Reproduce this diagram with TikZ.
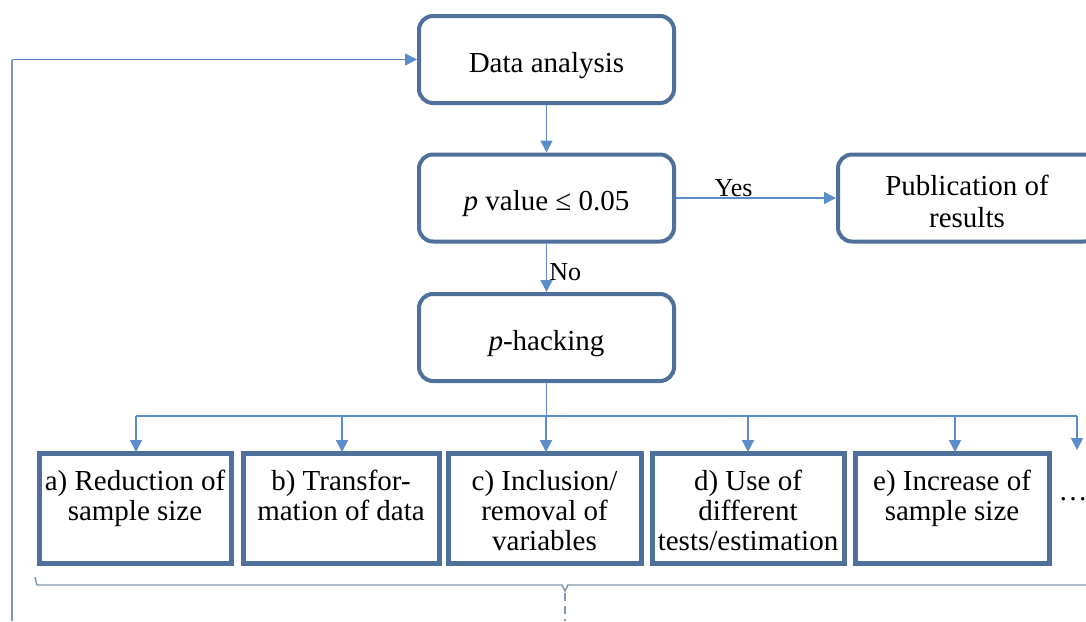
\documentclass[tikz,border=0pt]{standalone}
\usepackage{fontspec}
\setmainfont{Liberation Serif}
\newfontfamily\tnr{Liberation Serif}
\usetikzlibrary{arrows.meta}
\definecolor{boxc}{HTML}{4F709A}
\definecolor{linec}{HTML}{5B8DCB}
\definecolor{bracec}{HTML}{8096B2}
\begin{document}
\begin{tikzpicture}[x=1pt,y=-1pt,
  font=\tnr\fontsize{29}{30}\selectfont,
  rbox/.style={draw=boxc, line width=4pt, rounded corners=14pt, fill=white,
    minimum width=255pt, minimum height=87pt, inner sep=0pt},
  rtext/.style={align=center, inner sep=0pt, yshift=-6pt},
  sbox/.style={draw=boxc, line width=5pt, fill=white, minimum height=110pt, inner sep=0pt},
  btext/.style={anchor=north, align=center, inner sep=0pt, yshift=-19pt},
  conn/.style={draw=linec, line width=1.6pt},
  arr/.style={conn, -{Triangle[length=12pt,width=12pt]}},
  lab/.style={font=\tnr\fontsize{26}{28}\selectfont, inner sep=1pt},
  brace/.style={draw=bracec, line width=1.4pt}]
\clip (0,0) rectangle (1086,621);
\fill[white] (0,0) rectangle (1086,621);

% main decision chain
\node[rbox] (da) at (546.5,59.5) {};
\node[rbox] (pv) at (546.5,198) {};
\node[rbox, minimum width=260pt] (pub) at (968,198) {};
\node[rbox] (ph) at (546.5,337.5) {};
\node[rtext] (dat) at (da) {Data analysis};
\node[rtext] (pvt) at (pv) {\textit{p} value ≤ 0.05};
\node[rtext, yshift=3pt, font=\tnr\fontsize{29}{32}\selectfont] (pubt) at (pub.center -| 967,0) {Publication of\\results};
\node[rtext] (pht) at (ph) {\textit{p}-hacking};

\draw[arr] (da) -- (pv);
\draw[arr] (pv) -- node[lab, above, pos=0.36, yshift=-1pt] {Yes} (pub);
\draw[arr] (pv) -- node[lab, right, pos=0.6, xshift=1pt] {No} (ph);

% p-hacking strategies
\node[sbox, minimum width=192pt] (a) at (135,508.5) {};
\node[sbox, minimum width=196pt] (b) at (341,508.5) {};
\node[sbox, minimum width=193pt] (c) at (544.5,508.5) {};
\node[sbox, minimum width=192pt] (d) at (748,508.5) {};
\node[sbox, minimum width=194pt] (e) at (952,508.5) {};

\node[btext] (at) at (a.north) {a) Reduction of\\sample size};
\node[btext] (bt) at (b.north) {b) Transfor-\\mation of data};
\node[btext] (ct) at (c.north) {c) Inclusion/\\removal of\\variables};
\node[btext] (dt) at (d.north) {d) Use of\\different\\tests/estimation};
\node[btext] (et) at (e.north) {e) Increase of\\sample size};
\node[inner sep=0pt] (more) at (1073,499) {\dots};

% distribution bus
\coordinate (bus) at (546.5,416);
\coordinate (busl) at (136,416);
\coordinate (busr) at (1077,416);
\coordinate (moretop) at (1077,450);
\draw[conn] (ph.south) -- (bus);
\draw[conn] (busl) -- (busr);
\foreach \n/\x in {a/136, b/342, c/546, d/748, e/955}
  \draw[arr] (\x,416) -- (\x,452);
\draw[arr] (busr) -- (moretop);

% grouping brace under the strategies
\coordinate (brl) at (35,577);
\coordinate (brm) at (565,585);
\coordinate (brr) at (1086,585);
\draw[brace] (brl) -- (37,585) -- (562,585) -- (565,591) -- (568,585) -- (brr);
\draw[brace, dashed, dash pattern=on 8pt off 5pt] (565,593) -- (565,621);

% loop back to the analysis
\coordinate (loopb) at (12,621);
\coordinate (loopt) at (12,59.5);
\draw[conn, draw=bracec] (loopb) -- (loopt);
\draw[arr] (loopt) -- (da.west);
\end{tikzpicture}
\end{document}
